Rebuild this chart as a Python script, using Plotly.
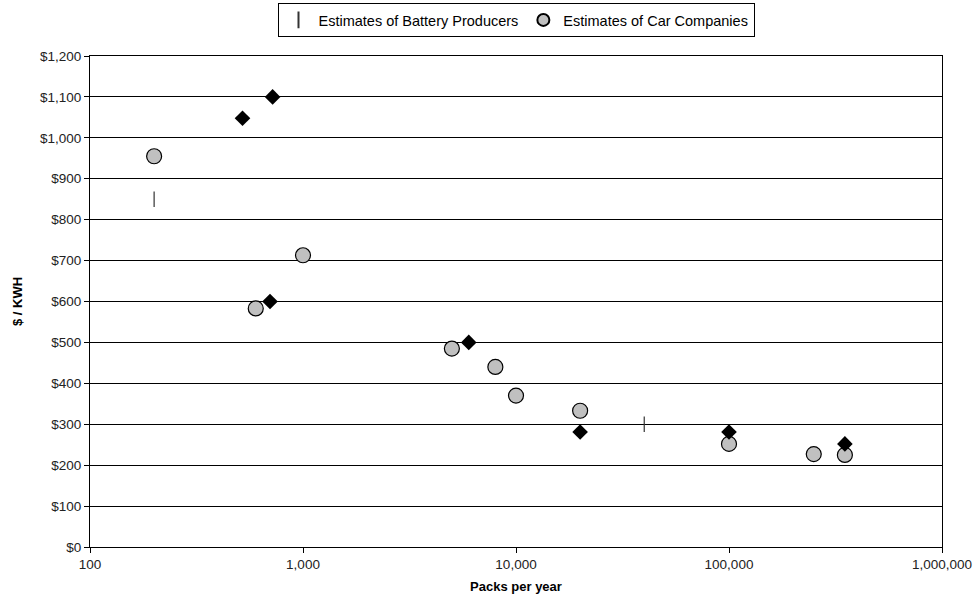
import plotly.graph_objects as go

# Estimates of Battery Producers (vertical-line markers)
battery_x = [200, 40000]
battery_y = [850, 300]

# Estimates of Car Companies (grey circles)
car_x = [200, 600, 1000, 5000, 8000, 10000, 20000, 100000, 250000, 350000]
car_y = [955, 583, 713, 485, 440, 370, 333, 252, 227, 225]

# Third series (black diamonds, not shown in legend)
other_x = [520, 720, 700, 6000, 20000, 100000, 350000]
other_y = [1048, 1100, 600, 500, 281, 281, 252]

x_tickvals = [100, 1000, 10000, 100000, 1000000]
x_ticktext = ["100", "1,000", "10,000", "100,000", "1,000,000"]

fig = go.Figure()
fig.add_trace(go.Scatter(
    x=battery_x, y=battery_y, mode="markers", name="Estimates of Battery Producers",
    marker=dict(symbol="line-ns", size=11, color="black", line=dict(width=1.2, color="#333333")),
))
fig.add_trace(go.Scatter(
    x=car_x, y=car_y, mode="markers", name="Estimates of Car Companies",
    marker=dict(symbol="circle", size=15, color="#c0c0c0", line=dict(width=1.2, color="black")),
))
fig.add_trace(go.Scatter(
    x=other_x, y=other_y, mode="markers", name="Other estimates", showlegend=False,
    marker=dict(symbol="diamond", size=12, color="black", line=dict(width=0)),
))

fig.update_layout(
    width=974, height=602,
    margin=dict(l=90, r=32, t=56, b=55, autoexpand=False),
    paper_bgcolor="white", plot_bgcolor="white",
    font=dict(family="Liberation Sans, Arial, sans-serif", size=13.5, color="#222222"),
    showlegend=True,
    legend=dict(
        orientation="h", x=0.5, xanchor="center", xref="paper",
        y=1.0 - 3 / 602, yanchor="top", yref="container",
        bordercolor="black", borderwidth=1, bgcolor="white",
        font=dict(size=14.5, color="black"), itemsizing="constant",
        tracegroupgap=0,
    ),
    xaxis=dict(
        type="log", range=[2, 6], tickvals=x_tickvals, ticktext=x_ticktext,
        showgrid=False, showline=True, linecolor="black", linewidth=1, mirror=True,
        ticks="outside", ticklen=5, tickcolor="black", zeroline=False, automargin=False,
        title=dict(text="<b>Packs per year</b>", font=dict(size=13, color="black"), standoff=10),
    ),
    yaxis=dict(
        range=[0, 1200], dtick=100, tickprefix="$", tickformat=",",
        showgrid=True, gridcolor="black", gridwidth=1,
        showline=True, linecolor="black", linewidth=1, mirror=True,
        ticks="outside", ticklen=5, tickcolor="black", zeroline=False, automargin=False,
        title=dict(text="<b>$ / KWH</b>", font=dict(size=13, color="black"), standoff=14),
    ),
)

fig.write_html("out.html")
